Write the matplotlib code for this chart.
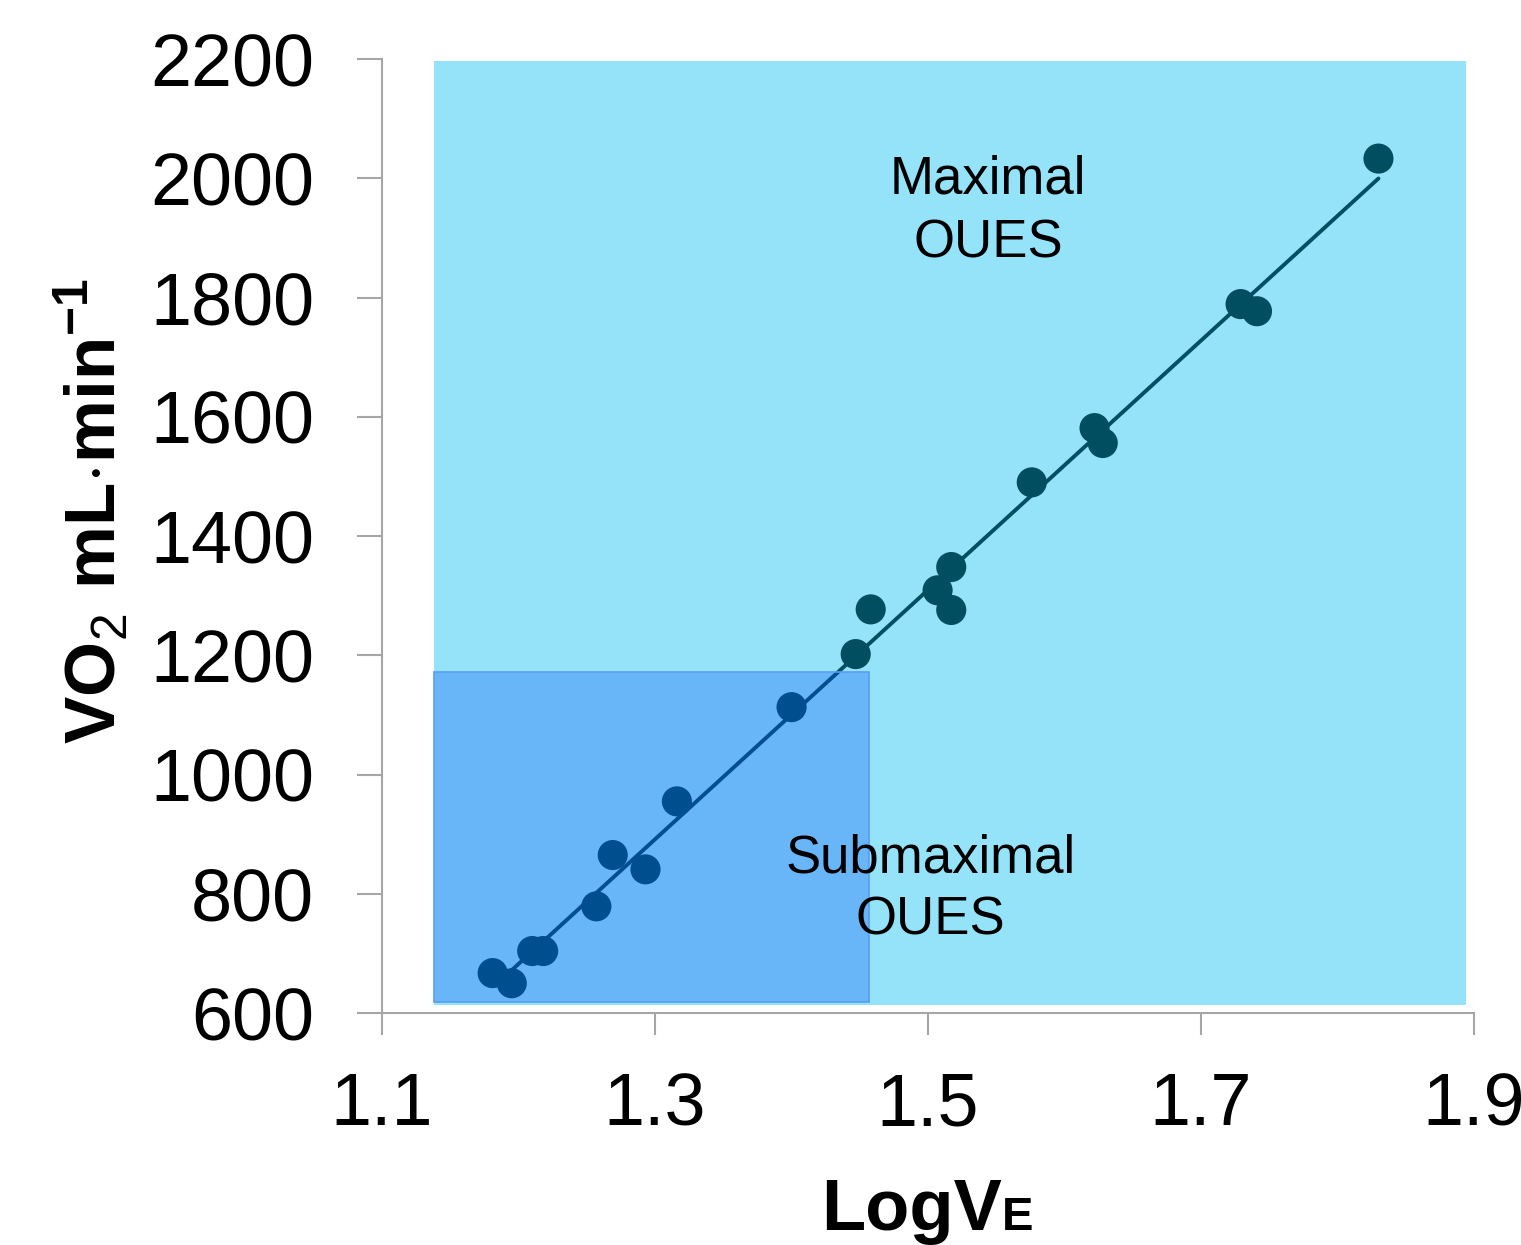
import numpy as np
import matplotlib.pyplot as plt
from matplotlib.patches import Rectangle

plt.rcParams['font.family'] = ['Liberation Sans', 'DejaVu Sans']
plt.rcParams['mathtext.fontset'] = 'custom'
plt.rcParams['mathtext.rm'] = 'Liberation Sans'
plt.rcParams['mathtext.bf'] = 'Liberation Sans:bold'

# data
log_ve = [1.181, 1.195, 1.210, 1.218, 1.257, 1.269, 1.293, 1.316, 1.400, 1.447,
          1.458, 1.507, 1.517, 1.517, 1.576, 1.622, 1.628, 1.729, 1.741, 1.830]
vo2 = [667, 650, 704, 704, 779, 865, 841, 955, 1113, 1202,
       1277, 1309, 1348, 1276, 1490, 1581, 1556, 1789, 1777, 2033]

# shaded regions (x0, x1, y0, y1)
maximal_region = [1.138, 1.894, 613, 2196]
submaximal_region = [1.138, 1.457, 619, 1172]

x_ticks = [1.1, 1.3, 1.5, 1.7, 1.9]
y_ticks = [600, 800, 1000, 1200, 1400, 1600, 1800, 2000, 2200]

teal = '#004e60'
grey = '#a6a6a6'

fig = plt.figure(figsize=(15.21, 12.45), dpi=100)
ax = fig.add_axes([0.2512, 0.1863, 0.7179, 0.7663])

x0, x1, y0, y1 = maximal_region
ax.add_patch(Rectangle((x0, y0), x1 - x0, y1 - y0, facecolor='#95e3f8',
                       edgecolor='none', zorder=0))

# regression line through the points
slope, icept = np.polyfit(log_ve, vo2, 1)
xfit = np.array([min(log_ve) + 0.005, max(log_ve)])
ax.plot(xfit, slope * xfit + icept, color=teal, lw=2.8, zorder=2,
        solid_capstyle='round')
ax.scatter(log_ve, vo2, s=470, color=teal, edgecolors='none', zorder=3)

# submaximal box is a translucent overlay on top of the points
x0, x1, y0, y1 = submaximal_region
ax.add_patch(Rectangle((x0, y0), x1 - x0, y1 - y0, facecolor=(0, 0.306, 0.973),
                       alpha=0.3, edgecolor='none', zorder=4))
ax.add_patch(Rectangle((x0, y0), x1 - x0, y1 - y0, facecolor='none',
                       edgecolor='#5a9df4', lw=1.2, zorder=4))

ax.text(1.544, 1975, 'Maximal', ha='center', va='baseline', fontsize=38, zorder=5)
ax.text(1.544, 1867, 'OUES', ha='center', va='baseline', fontsize=38, zorder=5)
ax.text(1.502, 835, 'Submaximal', ha='center', va='baseline', fontsize=38, zorder=5)
ax.text(1.502, 731, 'OUES', ha='center', va='baseline', fontsize=38, zorder=5)

ax.set_xlim(1.1, 1.9)
ax.set_ylim(600, 2200)
ax.set_xticks(x_ticks)
ax.set_xticklabels([f'{v:.1f}' for v in x_ticks])
ax.set_yticks(y_ticks)
ax.set_yticklabels([str(v) for v in y_ticks])

for side in ['top', 'right']:
    ax.spines[side].set_visible(False)
for side in ['left', 'bottom']:
    ax.spines[side].set_color(grey)
    ax.spines[side].set_linewidth(1.5)
ax.tick_params(axis='y', length=18, width=1.5, color=grey, pad=31, labelsize=53)
ax.tick_params(axis='x', length=16, width=1.5, color=grey, pad=26, labelsize=53)
ax.set_facecolor('none')

fig.text(0.06, 0.589, r'$\mathbf{VO}_{2}\ \mathbf{mL{\cdot}min}^{\mathbf{-1}}$',
         rotation=90, ha='center', va='center', fontsize=51)
fig.text(0.6588, 0.0121, 'LogV', ha='right', va='baseline', fontsize=52,
         fontweight='bold')
fig.text(0.6588, 0.0121, 'E', ha='left', va='baseline', fontsize=34,
         fontweight='bold')

fig.savefig('out.png', dpi=100)
